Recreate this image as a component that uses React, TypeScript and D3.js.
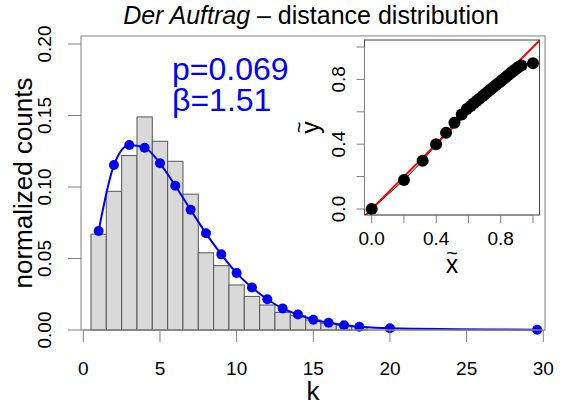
import * as d3 from "d3";
import React, { useEffect, useRef } from "react";

// histogram of distances (bins centred on k = 1..18)
const binK = [1, 2, 3, 4, 5, 6, 7, 8, 9, 10, 11, 12, 13, 14, 15, 16, 17, 18];
const binCounts = [
  0.067, 0.097, 0.122, 0.149, 0.132, 0.118, 0.095, 0.054, 0.045, 0.0315,
  0.0235, 0.0175, 0.0123, 0.01, 0.007, 0.0047, 0.0033, 0.0023,
];

// fitted model (blue)
const fitK = [1, 2, 3, 4, 5, 6, 7, 8, 9, 10, 11, 12, 13, 14, 15, 16, 17, 18, 20, 29.6];
const fitValues = [
  0.0692, 0.1154, 0.1294, 0.1275, 0.1166, 0.1009, 0.0841, 0.0676, 0.0529,
  0.0398, 0.0297, 0.0215, 0.0151, 0.0108, 0.0072, 0.0051, 0.0033, 0.0023,
  0.0012, 0.0002,
];

// inset: rescaled cumulative values
const insetX = [
  0.0, 0.2, 0.316, 0.399, 0.461, 0.513, 0.558, 0.59, 0.612, 0.631, 0.65,
  0.668, 0.686, 0.703, 0.72, 0.737, 0.753, 0.769, 0.785, 0.8, 0.815, 0.83,
  0.845, 0.86, 0.874, 0.888, 0.902, 0.915, 0.928, 1.0,
];
const insetY = [
  0.0, 0.179, 0.298, 0.399, 0.471, 0.533, 0.583, 0.617, 0.634, 0.651, 0.667,
  0.681, 0.696, 0.71, 0.724, 0.738, 0.751, 0.764, 0.777, 0.789, 0.801, 0.813,
  0.826, 0.838, 0.849, 0.86, 0.87, 0.879, 0.886, 0.9,
];

const xTicks = [0, 5, 10, 15, 20, 25, 30];
const yTicks = [0, 0.05, 0.1, 0.15, 0.2];
const insetTicks = [0, 0.2, 0.4, 0.6, 0.8, 1.0];
const insetLabels = [0, 0.4, 0.8];

const FONT = "'Liberation Sans', Arial, Helvetica, sans-serif";

const App = () => {
  const svgRef = useRef<SVGSVGElement | null>(null);

  useEffect(() => {
    const svg = d3.select(svgRef.current);
    svg.selectAll("*").remove();
    svg.style("font-family", FONT);

    const box = { left: 81, right: 545, top: 36, bottom: 330 };

    const x = d3.scaleLinear().domain([0, 30]).range([83.3, 543.3]);
    const y = d3.scaleLinear().domain([0, 0.2]).range([330, 44]);

    // histogram bars
    svg
      .append("g")
      .selectAll("rect")
      .data(binK)
      .enter()
      .append("rect")
      .attr("x", (k) => x(k - 0.5))
      .attr("y", (_, i) => y(binCounts[i]))
      .attr("width", (k) => x(k + 0.5) - x(k - 0.5))
      .attr("height", (_, i) => y(0) - y(binCounts[i]))
      .attr("fill", "#d9d9d9")
      .attr("stroke", "#555")
      .attr("stroke-width", 1);

    // fit line + dots
    const fit = fitK.map((k, i) => [k, fitValues[i]] as [number, number]);
    const line = d3
      .line<[number, number]>()
      .x((d) => x(d[0]))
      .y((d) => y(d[1]))
      .curve(d3.curveMonotoneX);

    svg
      .append("path")
      .datum(fit)
      .attr("fill", "none")
      .attr("stroke", "#0000ff")
      .attr("stroke-width", 2)
      .attr("d", line);

    svg
      .append("g")
      .selectAll("circle")
      .data(fit)
      .enter()
      .append("circle")
      .attr("cx", (d) => x(d[0]))
      .attr("cy", (d) => y(d[1]))
      .attr("r", 5)
      .attr("fill", "#0000ff");

    // frame
    svg
      .append("rect")
      .attr("x", box.left)
      .attr("y", box.top)
      .attr("width", box.right - box.left)
      .attr("height", box.bottom - box.top)
      .attr("fill", "none")
      .attr("stroke", "#808080");

    // x axis
    const xa = svg.append("g");
    xa.append("line")
      .attr("x1", x(0))
      .attr("x2", x(30))
      .attr("y1", box.bottom)
      .attr("y2", box.bottom)
      .attr("stroke", "#808080");
    xTicks.forEach((t) => {
      xa.append("line")
        .attr("x1", x(t))
        .attr("x2", x(t))
        .attr("y1", box.bottom)
        .attr("y2", box.bottom + 12)
        .attr("stroke", "#808080");
      xa.append("text")
        .attr("x", x(t))
        .attr("y", 375)
        .attr("text-anchor", "middle")
        .style("font-size", "19px")
        .text(String(t));
    });
    xa.append("text")
      .attr("x", (box.left + box.right) / 2)
      .attr("y", 400)
      .attr("text-anchor", "middle")
      .style("font-size", "26px")
      .text("k");

    // y axis
    const ya = svg.append("g");
    yTicks.forEach((t) => {
      ya.append("line")
        .attr("x1", box.left)
        .attr("x2", box.left - 13)
        .attr("y1", y(t))
        .attr("y2", y(t))
        .attr("stroke", "#808080");
      ya.append("text")
        .attr("transform", `translate(51,${y(t)}) rotate(-90)`)
        .attr("text-anchor", "middle")
        .style("font-size", "19px")
        .text(t.toFixed(2));
    });
    ya.append("text")
      .attr("transform", `translate(32,${(box.top + box.bottom) / 2}) rotate(-90)`)
      .attr("text-anchor", "middle")
      .style("font-size", "26px")
      .text("normalized counts");

    // title
    const title = svg
      .append("text")
      .attr("x", 311)
      .attr("y", 24)
      .attr("text-anchor", "middle")
      .style("font-size", "25px");
    title.append("tspan").style("font-style", "italic").text("Der Auftrag");
    title.append("tspan").text(" \u2013 distance distribution");

    // parameters
    svg
      .append("text")
      .attr("x", 172)
      .attr("y", 80)
      .attr("fill", "#0000ff")
      .style("font-size", "32px")
      .text("p=0.069");
    svg
      .append("text")
      .attr("x", 172)
      .attr("y", 111)
      .attr("fill", "#0000ff")
      .style("font-size", "32px")
      .text("\u03b2=1.51");

    // inset
    const ib = { left: 364.5, right: 539.5, top: 40, bottom: 215 };
    const ix = d3.scaleLinear().domain([0, 1]).range([371.7, 533]);
    const iy = d3.scaleLinear().domain([0, 1]).range([209, 47]);

    svg
      .append("rect")
      .attr("x", ib.left)
      .attr("y", ib.top)
      .attr("width", ib.right - ib.left)
      .attr("height", ib.bottom - ib.top)
      .attr("fill", "#fff");

    const clipId = "inset-clip";
    svg
      .append("clipPath")
      .attr("id", clipId)
      .append("rect")
      .attr("x", ib.left)
      .attr("y", ib.top)
      .attr("width", ib.right - ib.left)
      .attr("height", ib.bottom - ib.top);

    const ig = svg.append("g").attr("clip-path", `url(#${clipId})`);
    const pts = insetX.map((v, i) => [v, insetY[i]] as [number, number]);

    ig.append("path")
      .datum(pts)
      .attr("fill", "none")
      .attr("stroke", "#000")
      .attr("stroke-width", 1)
      .attr(
        "d",
        d3
          .line<[number, number]>()
          .x((d) => ix(d[0]))
          .y((d) => iy(d[1]))
      );

    ig.append("line")
      .attr("x1", ix(-0.1))
      .attr("y1", iy(-0.1))
      .attr("x2", ix(1.1))
      .attr("y2", iy(1.1))
      .attr("stroke", "#ff0000")
      .attr("stroke-width", 2);

    ig.selectAll("circle")
      .data(pts)
      .enter()
      .append("circle")
      .attr("cx", (d) => ix(d[0]))
      .attr("cy", (d) => iy(d[1]))
      .attr("r", 6)
      .attr("fill", "#000");

    svg
      .append("rect")
      .attr("x", ib.left)
      .attr("y", ib.top)
      .attr("width", ib.right - ib.left)
      .attr("height", ib.bottom - ib.top)
      .attr("fill", "none")
      .attr("stroke", "#444");

    insetTicks.forEach((t) => {
      svg
        .append("line")
        .attr("x1", ix(t))
        .attr("x2", ix(t))
        .attr("y1", ib.bottom)
        .attr("y2", ib.bottom + 8)
        .attr("stroke", "#808080");
      svg
        .append("line")
        .attr("x1", ib.left)
        .attr("x2", ib.left - 8)
        .attr("y1", iy(t))
        .attr("y2", iy(t))
        .attr("stroke", "#808080");
    });
    svg
      .append("line")
      .attr("x1", ix(0))
      .attr("x2", ix(1))
      .attr("y1", ib.bottom)
      .attr("y2", ib.bottom)
      .attr("stroke", "#808080");
    svg
      .append("line")
      .attr("x1", ib.left)
      .attr("x2", ib.left)
      .attr("y1", iy(0))
      .attr("y2", iy(1))
      .attr("stroke", "#808080");

    insetLabels.forEach((t) => {
      svg
        .append("text")
        .attr("x", ix(t))
        .attr("y", 245)
        .attr("text-anchor", "middle")
        .style("font-size", "19px")
        .text(t.toFixed(1));
      svg
        .append("text")
        .attr("transform", `translate(345,${iy(t)}) rotate(-90)`)
        .attr("text-anchor", "middle")
        .style("font-size", "19px")
        .text(t.toFixed(1));
    });

    // x~ and y~ labels
    const icx = (ib.left + ib.right) / 2;
    const icy = (ib.top + ib.bottom) / 2;
    svg
      .append("text")
      .attr("x", icx)
      .attr("y", 273)
      .attr("text-anchor", "middle")
      .style("font-size", "25px")
      .text("x");
    svg
      .append("text")
      .attr("x", icx)
      .attr("y", 260)
      .attr("text-anchor", "middle")
      .style("font-size", "20px")
      .text("~");
    svg
      .append("text")
      .attr("transform", `translate(319,${icy}) rotate(-90)`)
      .attr("text-anchor", "middle")
      .style("font-size", "25px")
      .text("y");
    svg
      .append("text")
      .attr("transform", `translate(306,${icy}) rotate(-90)`)
      .attr("text-anchor", "middle")
      .style("font-size", "20px")
      .text("~");
  }, []);

  return (
    <svg
      ref={svgRef}
      width={581}
      height={411}
      style={{ position: "absolute", left: 0, top: 0, background: "#fff" }}
    />
  );
};

export default App;
